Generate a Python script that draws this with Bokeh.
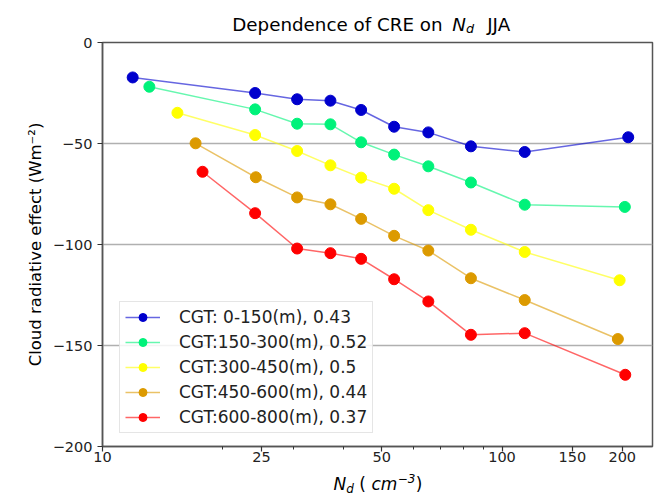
import math
from bokeh.plotting import figure
from bokeh.layouts import column, row
from bokeh.models import (Range1d, FixedTicker, CustomJSTickFormatter, Label,
                          Legend, LegendItem)
from bokeh.embed import file_html
from bokeh.resources import INLINE

# ---------------- data ----------------
series_labels = ["CGT: 0-150(m), 0.43", "CGT:150-300(m), 0.52", "CGT:300-450(m), 0.5",
                 "CGT:450-600(m), 0.44", "CGT:600-800(m), 0.37"]
series_colors = ["#0000cd", "#00f27a", "#ffff00", "#dc9a00", "#ff0000"]

nd_blue = [11.9, 24.1, 30.7, 37.2, 44.4, 53.7, 65.4, 83.6, 114, 207]
cre_blue = [-17.3, -25.0, -28.1, -28.8, -33.4, -41.7, -44.5, -51.4, -54.2, -46.9]

nd_green = [13.1, 24.1, 30.7, 37.2, 44.4, 53.7, 65.4, 83.6, 114, 203]
cre_green = [-21.9, -33.1, -40.2, -40.5, -49.4, -55.5, -61.3, -69.3, -80.3, -81.4]

nd_yellow = [15.4, 24.1, 30.7, 37.2, 44.4, 53.7, 65.4, 83.6, 114, 197]
cre_yellow = [-34.8, -45.8, -53.7, -60.8, -66.9, -72.4, -83.0, -92.7, -103.7, -117.7]

nd_orange = [17.1, 24.2, 30.7, 37.2, 44.4, 53.7, 65.4, 83.6, 114, 195]
cre_orange = [-49.9, -66.7, -76.7, -80.1, -87.3, -95.7, -103.0, -116.7, -127.5, -146.8]

nd_red = [17.8, 24.1, 30.7, 37.2, 44.4, 53.7, 65.4, 83.6, 114, 203.5]
cre_red = [-64.0, -84.5, -102.0, -104.3, -107.1, -117.2, -128.2, -144.7, -143.9, -164.5]

x_major_ticks = [10, 25, 50, 100, 150, 200]
x_minor_ticks = [20, 30, 40, 60, 70, 80, 90]
y_major_ticks = [0, -50, -100, -150, -200]
y_grid_ticks = [-50, -100, -150]

y_axis_title = "Cloud radiative effect (Wm\u207b\u00b2)"

# ---------------- layout constants ----------------
FONT = "DejaVu Sans"
TOTAL_W = 672
TOP_H = 36
SPACER_W = 2
MAIN_W, MAIN_H = TOTAL_W - SPACER_W, 434
BOTTOM_H = 26
FL = 102 - SPACER_W
FW = 550
PX_PER_DECADE = 399.5
XMAX = 10 ** (1 + FW / PX_PER_DECADE)
YMIN, YMAX = -200, 0
MID = 0.346   # distance (in em) from text middle to alphabetic baseline

# ---------------- main plot ----------------
p = figure(width=MAIN_W, height=MAIN_H, x_axis_type="log",
           x_range=Range1d(10, XMAX), y_range=Range1d(YMIN, YMAX),
           output_backend="svg", toolbar_location=None, title=None,
           min_border_left=FL, min_border_right=MAIN_W - FL - FW,
           min_border_top=6, min_border_bottom=MAIN_H - 6 - 404,
           background_fill_color="white", border_fill_color="white")

p.outline_line_color = "#555555"
p.outline_line_width = 1.5

for ax in (p.xaxis[0], p.yaxis[0]):
    ax.axis_line_color = "#555555"
    ax.axis_line_width = 1.5
    ax.major_tick_line_color = "#333333"
    ax.major_tick_line_width = 1.2
    ax.major_tick_out = 5
    ax.major_tick_in = 0
    ax.major_label_text_font = FONT
    ax.major_label_text_font_size = "14.5px"
    ax.major_label_text_color = "#222222"

p.xaxis.ticker = FixedTicker(ticks=x_major_ticks, minor_ticks=x_minor_ticks)
p.xaxis.formatter = CustomJSTickFormatter(code="return String(Math.round(tick));")
p.xaxis.minor_tick_line_color = "#333333"
p.xaxis.minor_tick_out = 3
p.xaxis.minor_tick_in = 0
p.xaxis.major_label_standoff = 0

p.yaxis.ticker = FixedTicker(ticks=y_major_ticks)
p.yaxis.formatter = CustomJSTickFormatter(
    code="return tick < 0 ? '\\u2212' + String(Math.abs(tick)) : String(tick);")
p.yaxis.minor_tick_line_color = None
p.yaxis.major_label_standoff = 5
p.yaxis.axis_label = y_axis_title
p.yaxis.axis_label_text_font = FONT
p.yaxis.axis_label_text_font_size = "16.5px"
p.yaxis.axis_label_text_font_style = "normal"
p.yaxis.axis_label_text_color = "black"
p.yaxis.axis_label_standoff = 5

p.xgrid.visible = False
p.ygrid.ticker = FixedTicker(ticks=y_grid_ticks)
p.ygrid.grid_line_color = "#b0b0b0"
p.ygrid.grid_line_width = 1.5

all_x = [nd_blue, nd_green, nd_yellow, nd_orange, nd_red]
all_y = [cre_blue, cre_green, cre_yellow, cre_orange, cre_red]
items = []
for lab, col, xs, ys in zip(series_labels, series_colors, all_x, all_y):
    ln = p.line(xs, ys, line_color=col, line_width=1.5, line_alpha=0.6)
    sc = p.scatter(xs, ys, marker="circle", size=11, fill_color=col, line_color=col)
    items.append(LegendItem(label=lab, renderers=[ln, sc]))

legend = Legend(items=items, location=(17, 13), margin=0, padding=5,
                spacing=5, glyph_width=35, glyph_height=20, label_height=20,
                label_standoff=19, label_text_font=FONT,
                label_text_font_size="17px", label_text_color="#222222",
                border_line_color="#cccccc", border_line_width=1.2,
                background_fill_alpha=0.85)
p.add_layout(legend)


# ---------------- text strips (title, x label) ----------------
def strip(w, h):
    f = figure(width=w, height=h, x_range=Range1d(0, w), y_range=Range1d(h, 0),
               output_backend="svg", toolbar_location=None, title=None,
               x_axis_location=None, y_axis_location=None, min_border=0,
               outline_line_color=None, background_fill_color="white",
               border_fill_color="white")
    f.grid.visible = False
    return f


def put(f, x, y, text, size, style="normal"):
    """x, y: start of the text on its baseline (strip pixels)."""
    f.add_layout(Label(x=x, y=y - MID * size, text=text, text_font=FONT,
                       text_font_size=f"{size}px", text_font_style=style,
                       text_color="black", text_align="left",
                       text_baseline="middle"))


# title: Dependence of CRE on  N_d JJA
top = strip(TOTAL_W, TOP_H)
tb = 30.0
put(top, 231.7, tb, "Dependence of CRE on", 18.3)
put(top, 451.7, tb, "N", 18.3, "italic")
put(top, 465.6, tb + 2.5, "d", 12.8, "italic")
put(top, 486.7, tb, "JJA", 18.3)

# narrow spacer so the row is not frame-aligned with the strips
spacer = strip(SPACER_W, MAIN_H)

# x label: N_d ( cm^-3)
bottom = strip(TOTAL_W, BOTTOM_H)
by = 489 - (TOP_H + MAIN_H)
put(bottom, 333.0, by, "N", 17, "italic")
put(bottom, 345.8, by + 3.5, "d", 12, "italic")
put(bottom, 358.8, by, "(", 17)
put(bottom, 371.0, by, "cm", 17, "italic")
put(bottom, 397.2, by - 7, "\u22123", 12, "italic")
put(bottom, 415.2, by, ")", 17)

layout = column(top, row(spacer, p), bottom)
open("out.html", "w").write(file_html(layout, INLINE))
